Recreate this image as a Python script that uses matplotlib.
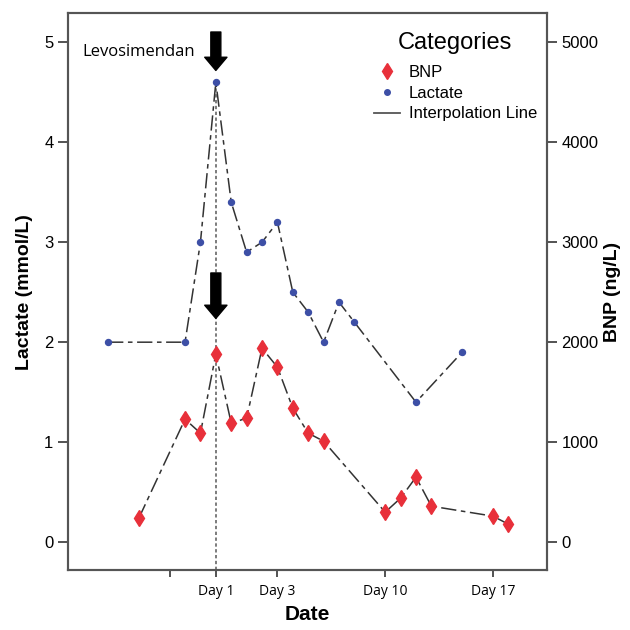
import matplotlib.pyplot as plt
import matplotlib as mpl
from matplotlib.lines import Line2D

mpl.rcParams.update({'font.family': ['Liberation Sans', 'DejaVu Sans']})

# sample index along the time axis (Day 1 = index 0)
lactate_x = [-7, -2, -1, 0, 1, 2, 3, 4, 5, 6, 7, 8, 9, 13, 16]
lactate = [2.0, 2.0, 3.0, 4.6, 3.4, 2.9, 3.0, 3.2, 2.5, 2.3, 2.0, 2.4, 2.2, 1.4, 1.9]

bnp_x = [-5, -2, -1, 0, 1, 2, 3, 4, 5, 6, 7, 11, 12, 13, 14, 18, 19]
bnp = [240, 1230, 1090, 1880, 1190, 1240, 1940, 1750, 1340, 1090, 1010,
       300, 440, 650, 360, 260, 180]

day_ticks = [-3, 0, 4, 11, 18]
day_labels = ["", "Day 1", "Day 3", "Day 10", "Day 17"]

red = "#e8303a"
blue = "#3d4fa6"
linecol = "#333333"
dashdot = (0, (10, 3, 3, 3))

fig = plt.figure(figsize=(6.3, 6.3), dpi=100)
ax = fig.add_axes([0.108, 0.095, 0.76, 0.884])
ax2 = ax.twinx()

# both axes share pixel scale: 1 mmol/L == 1000 ng/L
ylo, yhi = -0.28, 5.29
ax.set_ylim(ylo, yhi)
ax2.set_ylim(ylo * 1000, yhi * 1000)
ax.set_xlim(-9.6, 21.5)

# vertical marker at Day 1
ax.plot([0, 0], [ylo, lactate[3]], color="#666666", linestyle=(0, (2, 1.5)), linewidth=1.2, zorder=1)

ax.plot(lactate_x, lactate, color=linecol, linestyle=dashdot, linewidth=1.1, zorder=2)
ax.plot(lactate_x, lactate, linestyle="none", marker="o", markersize=4.3, color=blue, zorder=3)

bnp_k = [v / 1000 for v in bnp]
ax.plot(bnp_x, bnp_k, color=linecol, linestyle=dashdot, linewidth=1.1, zorder=2)
ax.plot(bnp_x, bnp_k, linestyle="none", marker="d", markersize=8.5, color=red, zorder=3)

arrow = dict(arrowstyle="simple,head_length=0.95,head_width=1.6,tail_width=0.72",
             facecolor="black", edgecolor="black", mutation_scale=10)
ax.annotate("", xy=(0, 4.69), xytext=(0, 5.13), arrowprops=arrow)
ax.annotate("", xy=(0, 2.21), xytext=(0, 2.72), arrowprops=arrow)

ax.text(-8.7, 4.9, "Levosimendan", fontsize=12, va="center", family=["Open Sans", "DejaVu Sans"])

ax.set_yticks([0, 1, 2, 3, 4, 5])
ax2.set_yticks([0, 1000, 2000, 3000, 4000, 5000])
ax.set_xticks(day_ticks)
ax.set_xticklabels(day_labels, fontsize=10, family=["Open Sans", "DejaVu Sans"])
ax.tick_params(axis="y", labelsize=12, length=7, width=1.3, color="#444444")
ax2.tick_params(axis="y", labelsize=12, length=7, width=1.3, color="#444444")
ax.tick_params(axis="x", length=5, width=1.3, color="#444444", pad=5)

for a in (ax, ax2):
    for s in a.spines.values():
        s.set_color("#555555")
        s.set_linewidth(1.5)

ax.set_ylabel("Lactate (mmol/L)", fontsize=14, fontweight="bold", labelpad=8)
ax2.set_ylabel("BNP (ng/L)", fontsize=14, fontweight="bold", labelpad=4)
ax.set_xlabel("Date", fontsize=15, fontweight="bold", labelpad=4)

handles = [
    Line2D([], [], linestyle="none", marker="d", markersize=8, color=red),
    Line2D([], [], linestyle="none", marker="o", markersize=4, color=blue),
    Line2D([], [], color="#555555", linewidth=1.3),
]
leg = ax.legend(handles, ["BNP", "Lactate", "Interpolation Line"], title="Categories",
                loc="upper right", bbox_to_anchor=(1.0, 0.985), frameon=False,
                fontsize=12, title_fontsize=17, handlelength=1.6, handletextpad=0.5,
                labelspacing=0.35, borderaxespad=0.2)
leg._legend_box.sep = 8

fig.savefig("out.png", dpi=100)
